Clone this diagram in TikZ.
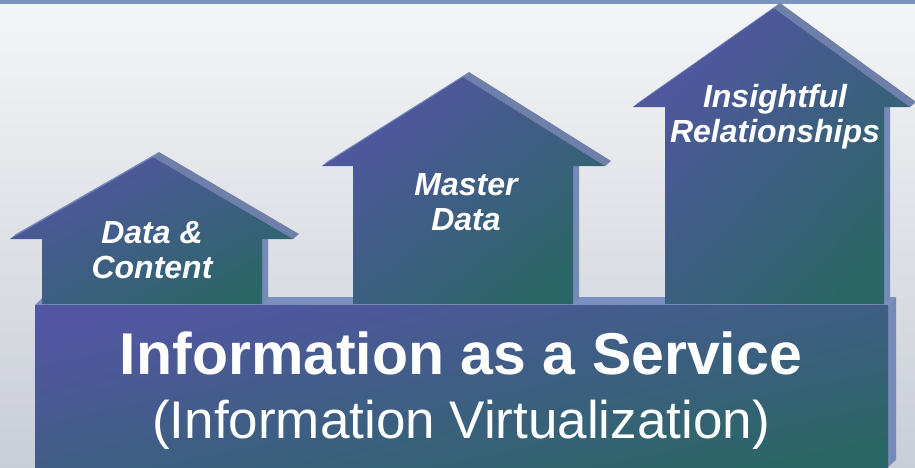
\documentclass[tikz,border=0pt]{standalone}
\usepackage{fontspec}
\setmainfont{Liberation Sans}
\begin{document}
\begin{tikzpicture}[x=1pt,y=1pt,
  facecol/.style={top color=topc, bottom color=botc, shading angle=#1, draw=none},
  facecol/.default=45,
  slopeR/.style={fill=bevR, draw=none},
  slopeL/.style={fill=bevL, draw=none},
  sideR/.style={fill=bevS, draw=none},
  houselabel/.style={text=white, font=\fontsize{32}{35}\selectfont\bfseries\itshape, align=center, anchor=base, inner sep=0pt}
]
\definecolor{topc}{RGB}{82,86,162}
\definecolor{botc}{RGB}{43,102,102}
\definecolor{bevR}{RGB}{110,128,170}
\definecolor{bevL}{RGB}{112,136,190}
\definecolor{bevS}{RGB}{118,138,184}
\definecolor{basetop}{RGB}{123,144,192}
\definecolor{bgtop}{RGB}{244,245,247}
\definecolor{bgbot}{RGB}{201,205,214}
\definecolor{rule}{RGB}{123,147,193}

\useasboundingbox (0,0) rectangle (915,467);
\shade[top color=bgtop, bottom color=bgbot] (0,0) rectangle (915,467);
\fill[rule] (0,463) rectangle (915,467);

% base top face
\fill[basetop] (35,162) -- (43,170) -- (896,170) -- (888,162) -- cycle;

% houses: L R E EL ER ax ay ang  (y measured from top)
\foreach \L/\R/\E/\EL/\ER/\ax/\ay/\ang in {42/262/239/10/293/153/157/28, 353/573/166/322/605/463/77/39, 665/884/107/633/910/774/8/47}{
  \pgfmathsetmacro{\e}{467-\E}
  \pgfmathsetmacro{\a}{467-\ay}
  \fill[slopeL] (\EL,\e) -- (\ax,\a) -- (\ax+6,\a+5) -- (\EL+6,\e+5) -- cycle;
  \fill[slopeR] (\ax,\a) -- (\ER,\e) -- (\ER+6,\e+5) -- (\ax+6,\a+5) -- cycle;
  \fill[sideR] (\R,\e) -- (\R+6,\e+5) -- (\R+6,168) -- (\R,163) -- cycle;
  \shade[facecol=\ang] (\L,163) -- (\L,\e) -- (\EL,\e) -- (\ax,\a) -- (\ER,\e) -- (\R,\e) -- (\R,163) -- cycle;
}

% base
\fill[bevS] (888,162) -- (896,170) -- (896,7) -- (888,0) -- cycle;
\shade[facecol=12] (35,0) rectangle (888,162);

\node[houselabel] (dc) at (152,{467-278}) {Data \&\\Content};
\node[houselabel] (md) at (466,{467-230}) {Master\\Data};
\node[houselabel] (ir) at (775,{467-142}) {Insightful\\Relationships};

\node[text=white, font=\fontsize{59}{60}\selectfont\bfseries, anchor=base, inner sep=0pt] (iaas) at (461,{467-374}) {Information as a Service};
\node[text=white, font=\fontsize{53}{56}\selectfont, anchor=base, inner sep=0pt] (iv) at (461,{467-438}) {(Information Virtualization)};
\end{tikzpicture}
\end{document}
